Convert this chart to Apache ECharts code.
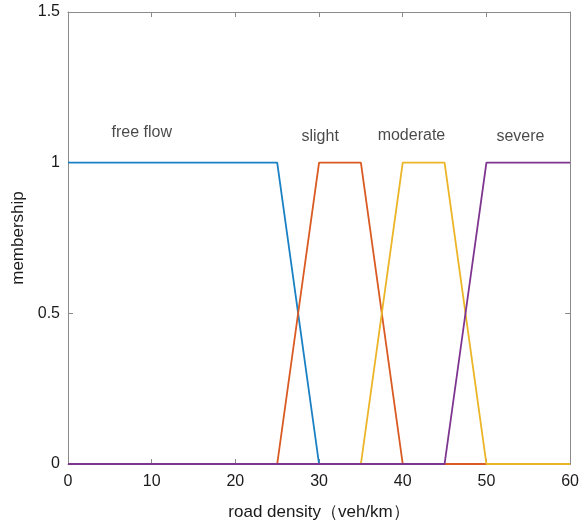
<!DOCTYPE html>
<html>
<head>
<meta charset="utf-8">
<script src="https://cdn.jsdelivr.net/npm/echarts@6/dist/echarts.min.js"></script>
<style>
  html, body { margin: 0; padding: 0; background: #fff; }
  #chart { width: 582px; height: 526px; }
</style>
</head>
<body>
<div id="chart"></div>
<script>
// Membership functions: breakpoints (x) and membership (y)
const freeFlowX = [0, 25, 30, 60];
const freeFlowY = [1, 1, 0, 0];
const slightX = [0, 25, 30, 35, 40, 60];
const slightY = [0, 0, 1, 1, 0, 0];
const moderateX = [0, 35, 40, 45, 50, 60];
const moderateY = [0, 0, 1, 1, 0, 0];
const severeX = [0, 45, 50, 60];
const severeY = [0, 0, 1, 1];

const seriesNames = ['free flow', 'slight', 'moderate', 'severe'];
const seriesColors = ['#1a80c4', '#d95a22', '#ebb527', '#7e3590'];

// Text labels placed in data coordinates (left-aligned)
const labelText = ['free flow', 'slight', 'moderate', 'severe'];
const labelX = [5.2, 27.9, 37.0, 51.2];
const labelY = [1.10, 1.085, 1.09, 1.085];

function pairs(xs, ys) {
    return xs.map((x, i) => [x, ys[i]]);
}

const lineData = [
    pairs(freeFlowX, freeFlowY),
    pairs(slightX, slightY),
    pairs(moderateX, moderateY),
    pairs(severeX, severeY)
];

const axisGray = '#8a8a8a';
const textColor = '#1a1a1a';
const font = 'Liberation Sans, Arial, sans-serif';

const chart = echarts.init(document.getElementById('chart'));

const series = lineData.map((d, i) => ({
    name: seriesNames[i],
    type: 'line',
    data: d,
    symbol: 'none',
    lineStyle: { color: seriesColors[i], width: 1.8 },
    z: 2 + i
}));

series.push({
    type: 'scatter',
    data: labelText.map((t, i) => ({ value: [labelX[i], labelY[i]], name: t })),
    symbolSize: 0,
    label: {
        show: true,
        position: 'right',
        distance: 0,
        formatter: p => p.name,
        color: textColor,
        fontSize: 16,
        fontFamily: font
    },
    silent: true,
    z: 10
});

function frameAxis(pos, max, interval) {
    return {
        type: 'value',
        position: pos,
        min: 0, max: max, interval: interval,
        axisLine: { show: true, onZero: false, lineStyle: { color: axisGray, width: 1 } },
        axisTick: { show: true, inside: true, length: 5, lineStyle: { color: axisGray } },
        axisLabel: { show: false },
        splitLine: { show: false }
    };
}

const option = {
    animation: false,
    backgroundColor: '#fff',
    grid: { left: 68, right: 9, top: 12, bottom: 61 },
    xAxis: [{
        type: 'value',
        position: 'bottom',
        min: 0, max: 60, interval: 10,
        name: 'road density（veh/km）',
        nameLocation: 'middle',
        nameGap: 40,
        nameTextStyle: { color: textColor, fontSize: 17, fontFamily: font },
        axisLine: { show: true, onZero: false, lineStyle: { color: axisGray, width: 1 } },
        axisTick: { show: true, inside: true, length: 5, lineStyle: { color: axisGray } },
        axisLabel: { color: textColor, fontSize: 16, fontFamily: font, margin: 10 },
        splitLine: { show: false }
    }, frameAxis('top', 60, 10)],
    yAxis: [{
        type: 'value',
        position: 'left',
        min: 0, max: 1.5, interval: 0.5,
        name: 'membership',
        nameLocation: 'middle',
        nameGap: 37,
        nameTextStyle: { color: textColor, fontSize: 17, fontFamily: font },
        axisLine: { show: true, onZero: false, lineStyle: { color: axisGray, width: 1 } },
        axisTick: { show: true, inside: true, length: 5, lineStyle: { color: axisGray } },
        axisLabel: { color: textColor, fontSize: 16, fontFamily: font, margin: 8 },
        splitLine: { show: false }
    }, frameAxis('right', 1.5, 0.5)],
    series: series
};

chart.setOption(option);
</script>
</body>
</html>
